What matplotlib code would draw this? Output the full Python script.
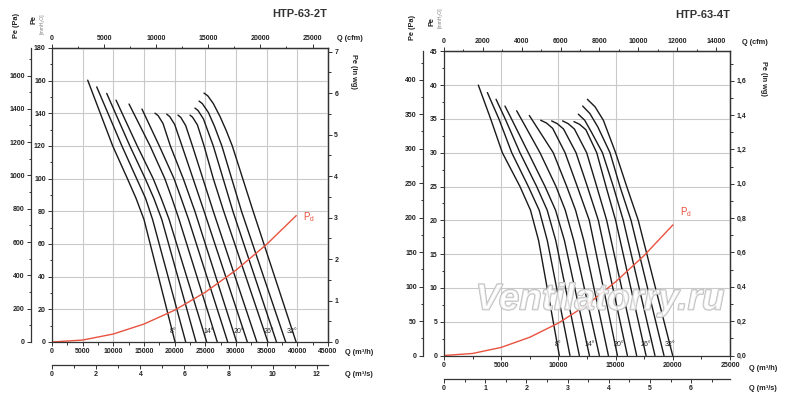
"""Fan performance charts HTP-63-2T / HTP-63-4T (blade angle curves + dynamic pressure)."""

import matplotlib
matplotlib.use("Agg")
import matplotlib.pyplot as plt
import matplotlib.patheffects as pe
from matplotlib.ticker import FixedLocator, FuncFormatter

plt.rcParams["font.family"] = ["Liberation Sans", "DejaVu Sans"]
plt.rcParams["font.weight"] = "bold"

W, H = 800, 408
MM_TO_PA = 9.80665
MM_PER_INWG = 25.4
M3H_PER_CFM = 1.699
M3H_PER_M3S = 3600.0

CURVE = "#1a1a1a"
RED = "#e8533f"
GRID = "#c9c9c9"
AXIS = "#333333"
TEXT = "#222222"

# ---- HTP-63-2T : Q in m3/h, Pe in mmH2O, one list per blade angle (8..32 deg)
left_q = [
    [5820, 9900, 12300, 13700, 15000, 20060],
    [7290, 11400, 13800, 15250, 16400, 21800],
    [8920, 12700, 15200, 16600, 17900, 23480],
    [10440, 13900, 16500, 17800, 19100, 25220],
    [12560, 16000, 18400, 19550, 20720, 26950],
    [14670, 17500, 19900, 21050, 22270, 28650],
    [16790, 17300, 18100, 19300, 21400, 23300, 30100],
    [18700, 19200, 20000, 21200, 23000, 24800, 31850],
    [20540, 21000, 21800, 22900, 24600, 26300, 33400],
    [22500, 22900, 23700, 24800, 26300, 28000, 35200],
    [23300, 23800, 24700, 26300, 27900, 29500, 36600],
    [23970, 24500, 25500, 26500, 27700, 29300, 30900, 38100],
    [24780, 25400, 26300, 27400, 28400, 29400, 31100, 32800, 39800],
]
left_pe = [
    [160.3, 120, 100, 88, 75, 0],
    [156.2, 120, 100, 88, 75, 0],
    [152.2, 120, 100, 88, 75, 0],
    [148.1, 120, 100, 88, 75, 0],
    [145.7, 120, 100, 88, 75, 0],
    [142.6, 120, 100, 88, 75, 0],
    [140.1, 138.6, 133.8, 120, 100, 80, 0],
    [139.5, 138.0, 133.2, 120, 100, 80, 0],
    [138.9, 137.5, 132.5, 120, 100, 80, 0],
    [138.9, 137.7, 133.0, 120, 100, 80, 0],
    [143.2, 141.8, 136.5, 120, 100, 80, 0],
    [147.5, 146.0, 140.5, 132, 120, 100, 80, 0],
    [152.4, 150.7, 146.0, 138, 129.5, 120, 100, 80, 0],
]
left_pd_q = [0, 5000, 10000, 15000, 20000, 25000, 30000, 35000, 39800]
left_pd_pe = [0, 1.2, 4.9, 11.0, 19.5, 30.5, 44.0, 59.8, 77.3]
left_angle_q = [19800, 25500, 30500, 35300, 39100]
left_angle_pe = [6.3, 6.3, 6.3, 6.3, 6.3]

# ---- HTP-63-4T
right_q = [
    [3000, 4080, 5100, 6640, 7560, 8270, 10080],
    [3790, 4800, 5920, 7370, 8320, 9030, 11010],
    [4550, 5350, 6640, 8100, 9020, 9770, 11830],
    [5330, 5900, 7370, 8830, 9750, 10530, 12710],
    [6350, 6750, 8390, 9790, 10600, 11340, 13580],
    [7460, 9550, 10730, 11500, 12220, 14370],
    [8450, 8950, 9500, 10580, 11650, 12700, 15160],
    [9410, 9900, 10450, 11540, 12530, 13490, 16030],
    [10370, 10850, 11400, 12470, 13350, 14220, 16840],
    [11360, 11850, 12400, 13350, 14160, 15000, 17660],
    [11740, 12300, 12900, 13850, 14800, 15670, 18440],
    [12120, 12750, 13450, 14510, 15380, 16350, 19230],
    [12530, 13200, 13930, 15000, 15970, 16980, 19990],
]
right_pe = [
    [40.0, 35, 30, 25, 21.5, 17, 0],
    [38.9, 35, 30, 25, 21.5, 17, 0],
    [37.9, 35, 30, 25, 21.5, 17, 0],
    [36.9, 35, 30, 25, 21.5, 17, 0],
    [36.2, 35, 30, 25, 21.5, 17, 0],
    [35.5, 30, 25, 21.5, 17, 0],
    [34.8, 34.4, 33.6, 30, 25, 20, 0],
    [34.7, 34.3, 33.5, 30, 25, 20, 0],
    [34.7, 34.3, 33.5, 30, 25, 20, 0],
    [34.6, 34.2, 33.4, 30, 25, 20, 0],
    [35.7, 34.8, 33.0, 30, 25, 20, 0],
    [36.9, 35.8, 33.8, 30, 25, 20, 0],
    [37.9, 36.8, 34.8, 30, 25, 20, 0],
]
right_pd_q = [0, 2500, 5000, 7500, 10000, 12500, 15000, 17500, 20000]
right_pd_pe = [0, 0.3, 1.2, 2.7, 4.8, 7.5, 10.9, 14.8, 19.3]
right_angle_q = [10000, 12700, 15330, 17660, 19760]
right_angle_pe = [1.6, 1.6, 1.6, 1.6, 1.6]

angle_labels = ["8°", "14°", "20°", "26°", "32°"]


def fx(x):
    return x / W


def fy(y):
    return 1 - y / H


def int_fmt(v, pos):
    return f"{v:.0f}"


def ticks_upto(step, vmax):
    # tick positions 0, step, 2*step ... not beyond the visible range
    n = int(vmax / step + 1e-6)
    return [round(i * step, 6) for i in range(n + 1)]


def style_axis(a, which_axis):
    a.tick_params(axis=which_axis, which="both", direction="out", colors=AXIS,
                  labelcolor=TEXT, labelsize=5, width=0.7)
    a.tick_params(axis=which_axis, which="major", length=3, pad=1.5)
    a.tick_params(axis=which_axis, which="minor", length=1.8)
    axis_obj = a.xaxis if which_axis == "x" else a.yaxis
    axis_obj.offsetText.set_visible(False)
    axis_obj.label.set_visible(False)


def set_scale(axis_obj, step, vmax, fmt):
    axis_obj.set_major_locator(FixedLocator(ticks_upto(step, vmax)))
    axis_obj.set_minor_locator(FixedLocator(ticks_upto(step / 2, vmax)))
    axis_obj.set_major_formatter(FuncFormatter(fmt))


def draw_chart(fig, px, cfg, curves_q, curves_pe, pd_q, pd_pe, ang_q, ang_pe):
    x0, y0, x1, y1 = px  # pixel box of the main plot area
    qmax, pemax = cfg["qmax"], cfg["pemax"]
    ax = fig.add_axes([fx(x0), fy(y1), (x1 - x0) / W, (y1 - y0) / H])
    ax.set_xlim(0, qmax)
    ax.set_ylim(0, pemax)
    set_scale(ax.xaxis, cfg["q_major"], qmax, int_fmt)
    set_scale(ax.yaxis, cfg["pe_major"], pemax, int_fmt)
    ax.grid(True, which="major", color=GRID, lw=0.8)
    ax.set_axisbelow(True)
    for s in ax.spines.values():
        s.set_color(AXIS)
        s.set_linewidth(0.9)
    style_axis(ax, "x")
    style_axis(ax, "y")

    # extra unit scales
    pa = ax.secondary_yaxis(cfg["pa_loc"], functions=(lambda v: v * MM_TO_PA,
                                                      lambda v: v / MM_TO_PA))
    set_scale(pa.yaxis, cfg["pa_major"], pemax * MM_TO_PA, int_fmt)

    inwg = ax.secondary_yaxis("right", functions=(lambda v: v / MM_PER_INWG,
                                                  lambda v: v * MM_PER_INWG))
    set_scale(inwg.yaxis, cfg["inwg_major"], pemax / MM_PER_INWG, cfg["inwg_fmt"])

    cfm = ax.secondary_xaxis("top", functions=(lambda v: v / M3H_PER_CFM,
                                               lambda v: v * M3H_PER_CFM))
    set_scale(cfm.xaxis, cfg["cfm_major"], qmax / M3H_PER_CFM, int_fmt)

    m3s = ax.secondary_xaxis(cfg["m3s_loc"], functions=(lambda v: v / M3H_PER_M3S,
                                                        lambda v: v * M3H_PER_M3S))
    set_scale(m3s.xaxis, cfg["m3s_major"], qmax / M3H_PER_M3S, int_fmt)

    for sec, axis_name in ((pa, "y"), (inwg, "y"), (cfm, "x"), (m3s, "x")):
        for s in sec.spines.values():
            s.set_color(AXIS)
            s.set_linewidth(0.9)
        style_axis(sec, axis_name)
        other = sec.xaxis if axis_name == "y" else sec.yaxis
        other.offsetText.set_visible(False)
        other.label.set_visible(False)

    for q, p in zip(curves_q, curves_pe):
        ax.plot(q, p, color=CURVE, lw=1.0, solid_capstyle="round",
                solid_joinstyle="round")
    ax.plot(pd_q, pd_pe, color=RED, lw=1.0)

    for q, p, lab in zip(ang_q, ang_pe, angle_labels):
        ax.text(q, p, lab, fontsize=5, ha="center", va="center",
                color=TEXT, fontweight="normal")
    return ax


fig = plt.figure(figsize=(W / 100, H / 100), dpi=100)
fig.patch.set_facecolor("white")

left_cfg = dict(qmax=45000, pemax=180, q_major=5000, pe_major=20,
                pa_major=200, inwg_major=1, cfm_major=5000, m3s_major=2,
                pa_loc=-21 / 276, m3s_loc=-23 / 294, inwg_fmt=int_fmt)
right_cfg = dict(qmax=25000, pemax=45, q_major=5000, pe_major=5,
                 pa_major=50, inwg_major=0.2, cfm_major=2000, m3s_major=1,
                 pa_loc=-21 / 286, m3s_loc=-23.5 / 304,
                 inwg_fmt=lambda v, p: f"{v:.1f}".replace(".", ","))

draw_chart(fig, (52, 48, 328, 342), left_cfg, left_q, left_pe,
           left_pd_q, left_pd_pe, left_angle_q, left_angle_pe)
draw_chart(fig, (444, 51.3, 730, 355.5), right_cfg, right_q, right_pe,
           right_pd_q, right_pd_pe, right_angle_q, right_angle_pe)

# headings
fig.text(fx(300), fy(14), "HTP-63-2T", fontsize=8, ha="center", va="center",
         color="#333333")
fig.text(fx(703), fy(15), "HTP-63-4T", fontsize=8, ha="center", va="center",
         color="#333333")

# axis titles
lab = dict(fontsize=5.3, color=TEXT, ha="center", va="center")
small = dict(rotation=90, fontsize=3.6, color="#808080", ha="center",
             va="center", fontweight="normal")

fig.text(fx(17), fy(25), "Pe (Pa)", rotation=90, **lab)
fig.text(fx(34), fy(20), "Pe", rotation=90, **lab)
fig.text(fx(42), fy(24), "[mmH₂O]", **small)
fig.text(fx(350), fy(39), "Q (cfm)", **lab)
fig.text(fx(354), fy(71), "Pe (in wg)", rotation=270, **lab)
fig.text(fx(359), fy(352), "Q (m³/h)", **lab)
fig.text(fx(359), fy(374), "Q (m³/s)", **lab)
fig.text(fx(303), fy(217), "P$_\\mathregular{d}$", fontsize=7, color=RED,
         ha="left", va="center", fontweight="normal")

fig.text(fx(412), fy(28), "Pe (Pa)", rotation=90, **lab)
fig.text(fx(432), fy(22), "Pe", rotation=90, **lab)
fig.text(fx(440), fy(18), "[mmH₂O]", **small)
fig.text(fx(755), fy(43), "Q (cfm)", **lab)
fig.text(fx(763), fy(78), "Pe (in wg)", rotation=270, **lab)
fig.text(fx(763), fy(368), "Q (m³/h)", **lab)
fig.text(fx(763), fy(388), "Q (m³/s)", **lab)
fig.text(fx(680), fy(212), "P$_\\mathregular{d}$", fontsize=7, color=RED,
         ha="left", va="center", fontweight="normal")

# watermark (outlined letters)
fig.text(fx(600), fy(300), "Ventilatorry.ru", fontsize=26.5, style="italic",
         fontweight="bold", color=(1, 1, 1, 0.6), ha="center", va="center",
         path_effects=[pe.Stroke(linewidth=1.2, foreground="#bdbdbd"), pe.Normal()],
         zorder=10)

fig.savefig("out.png", dpi=100)
